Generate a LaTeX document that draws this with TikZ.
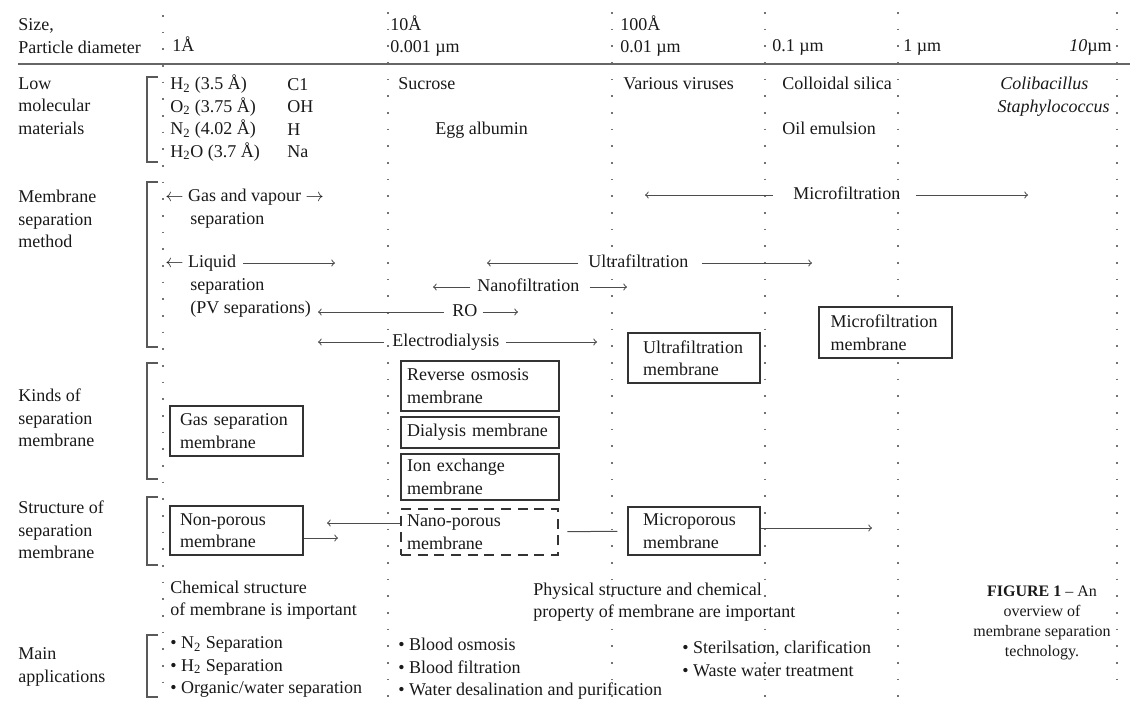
\documentclass[tikz,border=0pt]{standalone}
\usepackage{fontspec}
\setmainfont{Liberation Serif}
\usepackage{tikz}

\begin{document}
\begin{tikzpicture}[x=0.6pt, y=-0.6pt,
    every node/.style={font=\fontsize{10.8}{13.5}\selectfont}]

    \tikzstyle{label node} = [inner sep=0pt, align=left, text=black!90];
    \tikzstyle{box node} = [draw=black!80, fill=white, line width=0.8pt, inner ysep=0pt, align=left, text=black!90];
    \tikzstyle{dot line} = [black!55, line width=1.1pt, dash pattern=on 1pt off 9pt];
    \tikzstyle{bracket line} = [black!65, line width=0.7pt];
    \tikzstyle{range arrow} = [->, black!70, line width=0.6pt];

    \useasboundingbox (0,0) rectangle (1130,700);

    % size scale
    \draw [dot line] (163,15) -- (163,698);
    \draw [dot line] (388,12) -- (388,698);
    \draw [dot line] (612,12) -- (612,698);
    \draw [dot line] (765,12) -- (765,698);
    \draw [dot line] (898,12) -- (898,698);
    \draw [dot line] (1117,12) -- (1117,692);

    \node[label node, anchor=west] (size) at (18,36) {Size,\\Particle diameter};
    \node[label node, anchor=base west] (S1) at (172,51) {1Å};
    \node[label node, anchor=west] (S2) at (390,36) {10Å\\0.001 µm};
    \node[label node, anchor=west] (S3) at (620,36) {100Å\\0.01 µm};
    \node[label node, anchor=base west] (S4) at (772,51) {0.1 µm};
    \node[label node, anchor=base west] (S5) at (903,51) {1 µm};
    \node[label node, anchor=base east] (S6) at (1112,51) {\textit{10}µm};
    \draw [black!60, line width=1.2pt] (18,64) -- (1130,64);

    % Low molecular materials
    \node[label node, anchor=west] (low) at (18,106) {Low\\molecular\\materials};
    \draw [bracket line] (158,77) -- (147,77) -- (147,162) -- (158,162);
    \node[label node, anchor=west] (gases) at (170,118)
        {H\textsubscript{2} (3.5 Å)\\O\textsubscript{2} (3.75 Å)\\N\textsubscript{2} (4.02 Å)\\H\textsubscript{2}O (3.7 Å)};
    \node[label node, anchor=west] (ions) at (287,118) {C1\\OH\\H\\Na};
    \node[label node, anchor=base west] (sucrose) at (398,89) {Sucrose};
    \node[label node, anchor=base west] (egg) at (435,134) {Egg albumin};
    \node[label node, anchor=base west] (virus) at (623,89) {Various viruses};
    \node[label node, anchor=base west] (silica) at (782,89) {Colloidal silica};
    \node[label node, anchor=base west] (oil) at (782,134) {Oil emulsion};
    \node[label node, anchor=base west] (coli) at (1000,89) {\textit{Colibacillus}};
    \node[label node, anchor=base east] (staph) at (1110,112) {\textit{Staphylococcus}};

    % Membrane separation method
    \node[label node, anchor=west] (method) at (18,219) {Membrane\\separation\\method};
    \draw [bracket line] (158,182) -- (147,182) -- (147,347) -- (158,347);
    \node[label node, anchor=base west] (gasvap) at (165,201) {$\leftarrow$ Gas and vapour $\rightarrow$};
    \node[label node, anchor=base west] (gassep) at (190,224) {separation};
    \node[label node, anchor=base west] (liquid) at (165,267) {$\leftarrow$ Liquid};
    \node[label node, anchor=west] (liqsep) at (190,298) {separation\\(PV separations)};

    \node[label node, anchor=base west] (MF) at (793,199) {Microfiltration};
    \node[label node, anchor=base west] (UF) at (588,267) {Ultrafiltration};
    \node[label node, anchor=base west] (NF) at (477,291) {Nanofiltration};
    \node[label node, anchor=base west] (RO) at (452,316) {RO};
    \node[label node, anchor=base west] (ED) at (392,346) {Electrodialysis};

    \coordinate (liqR) at (335,263);
    \coordinate (MFL) at (645,195);
    \coordinate (MFR) at (1028,195);
    \coordinate (UFL) at (487,263);
    \coordinate (UFR) at (812,263);
    \coordinate (NFL) at (433,287);
    \coordinate (NFR) at (627,287);
    \coordinate (ROL) at (318,312);
    \coordinate (ROR) at (518,312);
    \coordinate (EDL) at (318,342);
    \coordinate (EDR) at (597,342);

    \draw [range arrow, shorten <=4pt] (liquid.east |- liqR) -- (liqR);
    \draw [range arrow, shorten <=12pt] (MF.west |- MFL) -- (MFL);
    \draw [range arrow, shorten <=9pt] (MF.east |- MFR) -- (MFR);
    \draw [range arrow, shorten <=6pt] (UF.west |- UFL) -- (UFL);
    \draw [range arrow, shorten <=8pt] (UF.east |- UFR) -- (UFR);
    \draw [range arrow, shorten <=4pt] (NF.west |- NFL) -- (NFL);
    \draw [range arrow, shorten <=6pt] (NF.east |- NFR) -- (NFR);
    \draw [range arrow, shorten <=5pt] (RO.west |- ROL) -- (ROL);
    \draw [range arrow, shorten <=3pt] (RO.east |- ROR) -- (ROR);
    \draw [range arrow, shorten <=5pt] (ED.west |- EDL) -- (EDL);
    \draw [range arrow, shorten <=4pt] (ED.east |- EDR) -- (EDR);

    % Kinds of separation membrane
    \node[label node, anchor=west] (kinds) at (18,418) {Kinds of\\separation\\membrane};
    \draw [bracket line] (158,363) -- (147,363) -- (147,479) -- (158,479);
    \node[box node, inner xsep=6pt, text width=67.8pt, minimum height=30pt] (gasmem) at (236.5,431) {Gas separation\\membrane};
    \node[box node, inner xsep=3.6pt, text width=87.6pt, minimum height=30pt] (romem) at (480,386) {Reverse osmosis\\membrane};
    \node[box node, inner xsep=3.6pt, text width=87.6pt, minimum height=18.6pt] (dialmem) at (480,432.5) {Dialysis membrane};
    \node[box node, inner xsep=3.6pt, text width=87.6pt, minimum height=27.6pt] (ionmem) at (480,477) {Ion exchange\\membrane};
    \node[box node, inner xsep=9pt, text width=61.2pt, minimum height=30pt] (ufmem) at (694,358) {Ultrafiltration\\membrane};
    \node[box node, inner xsep=7pt, text width=65.8pt, minimum height=30.6pt] (mfmem) at (885.5,332.5) {Microfiltration\\membrane};

    % Structure of separation membrane
    \node[label node, anchor=west] (struct) at (18,530) {Structure of\\separation\\membrane};
    \draw [bracket line] (158,497) -- (147,497) -- (147,565) -- (158,565);
    \node[box node, inner xsep=6pt, text width=67.8pt, minimum height=29.4pt] (nonpor) at (236.5,530.5) {Non-porous\\membrane};
    \node[box node, dash pattern=on 6pt off 4pt, line width=1.1pt, inner xsep=3.6pt, text width=87pt, minimum height=27.6pt] (nanopor) at (479.5,532) {Nano-porous\\membrane};
    \node[box node, inner xsep=9pt, text width=61.2pt, minimum height=28.8pt] (micpor) at (694,531) {Microporous\\membrane};

    \coordinate (NPL) at (327,523);
    \coordinate (NPR) at (338,538);
    \coordinate (MPR) at (872,528);
    \draw [range arrow] (nanopor.west |- NPL) -- (NPL);
    \draw [range arrow] (nonpor.east |- NPR) -- (NPR);
    \draw [black!70, line width=0.6pt, shorten <=5pt, shorten >=6pt] (nanopor) -- (micpor);
    \draw [range arrow] (micpor.east |- MPR) -- (MPR);

    \node[label node, anchor=west] (chem) at (170,600) {Chemical structure\\of membrane is important};
    \node[label node, anchor=west] (phys) at (533,602) {Physical structure and chemical\\property of membrane are important};
    \node[label node, align=center, font=\fontsize{9.6}{12}\selectfont] (caption) at (1042,623)
        {\textbf{FIGURE 1} -- An\\overview of\\membrane separation\\technology.};

    % Main applications
    \node[label node, anchor=west] (main) at (18,667) {Main\\applications};
    \draw [bracket line] (158,635) -- (147,635) -- (147,697) -- (158,697);
    \node[label node, anchor=west] (app1) at (170,667)
        {• N\textsubscript{2} Separation\\• H\textsubscript{2} Separation\\• Organic/water separation};
    \node[label node, anchor=west] (app2) at (398,669)
        {• Blood osmosis\\• Blood filtration\\• Water desalination and purification};
    \node[label node, anchor=west] (app3) at (682,659)
        {• Sterilsation, clarification\\• Waste water treatment};
\end{tikzpicture}
\end{document}
